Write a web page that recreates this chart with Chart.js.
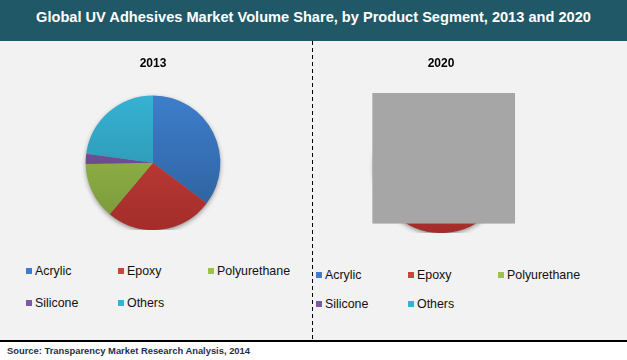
<!DOCTYPE html>
<html>
<head>
<meta charset="utf-8">
<script src="https://cdn.jsdelivr.net/npm/chart.js@4"></script>
<style>
  body { margin: 0; width: 627px; height: 360px; background: #fff; font-family: "Liberation Sans", Arial, sans-serif; position: relative; overflow: hidden; }
  #panel { position: absolute; left: 0; top: 0; width: 627px; height: 341px; background: #f2f2f2; }
  #titleBar { position: absolute; left: 0; top: 0; width: 627px; height: 41px; background: #215868; color: #fff; font-weight: bold; font-size: 14.6px; text-align: center; line-height: 34px; }
  #divider { position: absolute; left: 312px; top: 41px; width: 1px; height: 300px; background: repeating-linear-gradient(to bottom, #000 0 4px, transparent 4px 7px); }
  #baseLine { position: absolute; left: 0; top: 340px; width: 627px; height: 2px; background: #000; }
  #source { position: absolute; left: 7px; top: 345px; font-size: 9.4px; font-weight: bold; color: #1f2f4a; }
  .box { position: absolute; }
  .legend { position: absolute; display: grid; grid-template-columns: 92px 90px auto; font-size: 12.4px; color: #111; }
  .legend span.item { display: flex; align-items: center; height: 14px; }
  .legend i { display: inline-block; width: 6px; height: 6px; margin-right: 3px; }
</style>
</head>
<body>
<div id="panel"></div>
<div id="titleBar">Global UV Adhesives Market Volume Share, by Product Segment, 2013 and 2020</div>
<div id="divider"></div>
<div class="box" style="left:0px; top:53px; width:306px; height:177px;"><canvas id="pie2013"></canvas></div>
<div class="box" style="left:320px; top:53px; width:242px; height:180px;"><canvas id="pie2020"></canvas></div>
<div class="legend" id="legend2013" style="left:26px; top:264px; row-gap:18px;"></div>
<div class="legend" id="legend2020" style="left:316px; top:268px; row-gap:15px;"></div>
<div id="baseLine"></div>
<div id="source">Source: Transparency Market Research Analysis, 2014</div>

<script>
const categories = ["Acrylic", "Epoxy", "Polyurethane", "Silicone", "Others"];
const share2013 = [35.3, 25.8, 13.6, 2.4, 22.9];
const share2020 = [36.5, 25.5, 13.5, 2.3, 22.2];
const topColors = ["#3d7ecb", "#cc423e", "#9dc24b", "#7d58a3", "#36b2d3"];
const bottomColors = ["#2d5e99", "#a32d2a", "#78973a", "#5e3f80", "#2889a3"];

const gradientFill = (context) => {
  const chart = context.chart;
  const area = chart.chartArea;
  if (!area) return topColors[context.dataIndex];
  const g = chart.ctx.createLinearGradient(0, area.top, 0, area.bottom);
  g.addColorStop(0, topColors[context.dataIndex]);
  g.addColorStop(1, bottomColors[context.dataIndex]);
  return g;
};

// soft shadow under the pie
const pieShadow = {
  id: "pieShadow",
  beforeDatasetsDraw(chart) {
    const arc = chart.getDatasetMeta(0).data[0];
    if (!arc) return;
    const ctx = chart.ctx;
    ctx.save();
    ctx.shadowColor = "rgba(0,0,0,0.45)";
    ctx.shadowBlur = 5;
    ctx.shadowOffsetY = 2;
    ctx.fillStyle = "#888";
    ctx.beginPath();
    ctx.arc(arc.x, arc.y, arc.outerRadius - 0.5, 0, Math.PI * 2);
    ctx.fill();
    ctx.restore();
  },
};

// grey placeholder box that hides most of the 2020 pie
const coverBox = {
  id: "coverBox",
  afterDatasetsDraw(chart) {
    const arc = chart.getDatasetMeta(0).data[0];
    if (!arc) return;
    const r = arc.outerRadius;
    const ctx = chart.ctx;
    ctx.save();
    ctx.fillStyle = "#a6a6a6";
    ctx.fillRect(arc.x - 1.02 * r, arc.y - 1.08 * r, 2.12 * r, 1.94 * r);
    ctx.restore();
  },
};

const makePie = (id, year, values, titlePad, extraPlugins) => {
  const ctx = document.getElementById(id).getContext("2d");
  return new Chart(ctx, {
    type: "pie",
    data: {
      labels: categories,
      datasets: [
        {
          data: values,
          backgroundColor: gradientFill,
          borderWidth: 0,
        },
      ],
    },
    options: {
      responsive: true,
      maintainAspectRatio: false,
      animation: false,
      layout: { padding: 0 },
      plugins: {
        legend: { display: false },
        tooltip: { enabled: false },
        title: {
          display: true,
          text: year,
          color: "#000",
          font: { family: "Liberation Sans", size: 12, weight: "bold" },
          padding: titlePad,
        },
      },
    },
    plugins: [pieShadow].concat(extraPlugins),
  });
};

const buildLegend = (elId) => {
  const el = document.getElementById(elId);
  categories.forEach((name, i) => {
    const item = document.createElement("span");
    item.className = "item";
    item.innerHTML = '<i style="background:' + topColors[i] + '"></i>' + name;
    el.appendChild(item);
  });
};

makePie("pie2013", "2013", share2013, { top: 3, bottom: 25 }, []);
makePie("pie2020", "2020", share2020, { top: 3, bottom: 28 }, [coverBox]);
buildLegend("legend2013");
buildLegend("legend2020");
</script>
</body>
</html>
